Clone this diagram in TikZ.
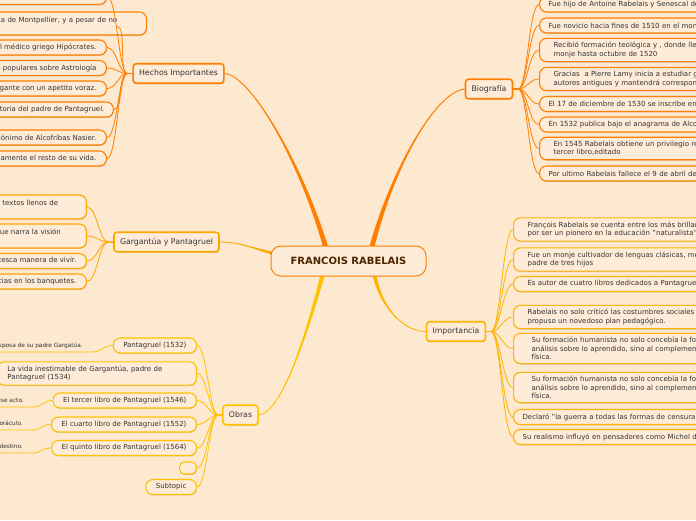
\documentclass[tikz,border=0pt]{standalone}
\usepackage{fontspec}
\setmainfont{DejaVu Sans}
\usetikzlibrary{calc,shadows,backgrounds}
\definecolor{paper}{RGB}{253,232,208}
\definecolor{boxfill}{RGB}{254,236,216}
\definecolor{orangeA}{RGB}{255,128,0}
\definecolor{orangeB}{RGB}{255,166,0}
\definecolor{goldA}{RGB}{255,180,0}
\definecolor{goldB}{RGB}{255,194,0}
\definecolor{inkgray}{RGB}{51,51,51}
\definecolor{inkbrown}{RGB}{77,38,0}
\tikzset{
  softshadow/.style={drop shadow={shadow xshift=0.5pt, shadow yshift=-0.9pt, opacity=0.3, fill=black!60}},
  rootbox/.style={draw=orangeA, line width=1pt, fill=boxfill, rounded corners=10pt, minimum width=155pt, minimum height=30pt, font=\fontsize{10}{12}\selectfont\bfseries, text=inkbrown},
  topicbox/.style={draw=#1, line width=1.6pt, fill=boxfill, rounded corners=3pt, minimum height=19.5pt, inner xsep=6pt, font=\fontsize{7.8}{9.5}\selectfont, text=inkgray, softshadow},
  leafbox/.style={draw=#1, line width=1.1pt, fill=boxfill, rounded corners=7pt, minimum height=15pt, inner xsep=10pt, inner ysep=4pt, align=left, font=\fontsize{7}{8.3}\selectfont, text=inkgray, softshadow},
  notetext/.style={inner xsep=9pt, inner ysep=4.5pt, text depth=0pt, font=\fontsize{5.8}{7}\selectfont, text=inkgray},
  twig/.style={draw=#1, line width=0.8pt}
}
\begin{document}
\begin{tikzpicture}[x=1pt, y=-1pt]
\useasboundingbox (0,0) rectangle (696,520);
\begin{scope}[on background layer]
\fill[paper] (0,0) rectangle (696,520);
\end{scope}

\node[rootbox] (rabelais) at (348.5,261) {FRANCOIS RABELAIS};
\node[topicbox=orangeA] (hechos) at (178.5,73.5) {Hechos Importantes};
\node[topicbox=orangeA] (bio) at (489,89) {Biografía};
\node[topicbox=orangeB] (garg) at (166.5,242) {Gargantúa y Pantagruel};
\node[topicbox=goldB] (obras) at (240.5,415) {Obras};
\node[topicbox=goldA] (imp) at (456,331.5) {Importancia};

\node[leafbox=orangeA, anchor=south east, text width=98pt] (h1) at (107,5) {\mbox{}\\as.};
\node[leafbox=orangeA, anchor=east, text width=140pt, minimum height=23pt] (h2) at (147,23.5) {na de Montpellier, y a pesar de no\\\mbox{}};
\node[leafbox=orangeA, anchor=east] (h3) at (107,47.5) {del médico griego Hipócrates.};
\node[leafbox=orangeA, anchor=east] (h4) at (107,68) {libros populares sobre Astrología};
\node[leafbox=orangeA, anchor=east] (h5) at (107,88.5) {elegante con un apetito voraz.};
\node[leafbox=orangeA, anchor=east, inner xsep=9pt] (h6) at (114,109.5) {historia del padre de Pantagruel.};
\node[leafbox=orangeA, anchor=east] (h7) at (107,137.5) {seudónimo de Alcofribas Nasier.};
\node[leafbox=orangeA, anchor=east] (h8) at (107,158.5) {tranquilamente el resto de su vida.};

\node[leafbox=orangeB, anchor=east, text width=74pt, minimum height=24pt] (g1) at (87,207) {textos llenos de\\\mbox{}};
\node[leafbox=orangeB, anchor=east, text width=81pt, minimum height=24pt] (g2) at (87,236) {que narra la visión\\\mbox{}};
\node[leafbox=orangeB, anchor=east] (g3) at (87,261) {grotesca manera de vivir.};
\node[leafbox=orangeB, anchor=east] (g4) at (87,281.5) {delicias en los banquetes.};

\node[leafbox=goldB, anchor=east] (o1) at (197,345.5) {Pantagruel (1532)};
\node[leafbox=goldB, anchor=east, text width=179pt] (o2) at (197,373.5) {La vida inestimable de Gargantúa, padre de\\Pantagruel (1534)};
\node[leafbox=goldB, anchor=east] (o3) at (197,400.5) {El tercer libro de Pantagruel (1546)};
\node[leafbox=goldB, anchor=east] (o4) at (197,424.5) {El cuarto libro de Pantagruel (1552)};
\node[leafbox=goldB, anchor=east] (o5) at (197,448) {El quinto libro de Pantagruel (1564)};
\node[leafbox=goldB, anchor=east, minimum width=17pt, minimum height=12pt, inner sep=0pt, rounded corners=5pt] (o6) at (197,468) {};
\node[leafbox=goldB, anchor=east] (o7) at (197,487) {Subtopic};

\node[notetext, anchor=south east] (n1) at (92,352) {esposa de su padre Gargatúa.};
\node[notetext, anchor=south east] (n3) at (33,407) {ese acto.};
\node[notetext, anchor=south east] (n4) at (32,430) {oráculo.};
\node[notetext, anchor=south east] (n5) at (32,453) {destino.};

\node[leafbox=orangeA, anchor=west, text width=260pt, inner xsep=9pt] (b1) at (539,4.5) {Fue hijo de Antoine Rabelais y Senescal de};
\node[leafbox=orangeA, anchor=west, text width=260pt, inner xsep=9pt] (b2) at (539,25.5) {Fue novicio hacia fines de 1510 en el monasterio};
\node[leafbox=orangeA, anchor=west, text width=260pt, inner xsep=14pt] (b3) at (539,50) {Recibió formación teológica y , donde llegó\\monje hasta octubre de 1520};
\node[leafbox=orangeA, anchor=west, text width=260pt, inner xsep=14pt] (b4) at (539,79) {Gracias~ a Pierre Lamy inicia a estudiar griego\\autores antiguos y mantendrá correspondencia};
\node[leafbox=orangeA, anchor=west, text width=260pt, inner xsep=9pt] (b5) at (539,104) {El 17 de diciembre de 1530 se inscribe en};
\node[leafbox=orangeA, anchor=west, text width=260pt, inner xsep=9pt] (b6) at (539,124.5) {En 1532 publica bajo el anagrama de Alcofribas};
\node[leafbox=orangeA, anchor=west, text width=260pt, inner xsep=14pt] (b7) at (539,148.5) {En 1545 Rabelais obtiene un privilegio real\\tercer libro,editado};
\node[leafbox=orangeA, anchor=west, text width=260pt, inner xsep=9pt] (b8) at (539,173.5) {Por ultimo Rabelais fallece el 9 de abril de};

\node[leafbox=goldA, anchor=west, text width=260pt, inner xsep=14pt] (i1) at (513,229.5) {François Rabelais se cuenta entre los más brillantes\\por ser un pionero en la educación "naturalista"};
\node[leafbox=goldA, anchor=west, text width=260pt, inner xsep=14pt] (i2) at (513,259.5) {Fue un monje cultivador de lenguas clásicas, médico\\padre de tres hijos};
\node[leafbox=goldA, anchor=west, text width=260pt, inner xsep=14pt] (i3) at (513,284) {Es autor de cuatro libros dedicados a Pantagruel};
\node[leafbox=goldA, anchor=west, text width=260pt, inner xsep=14pt] (i4) at (513,317) {Rabelais no solo criticó las costumbres sociales y\\propuso un novedoso plan pedagógico.};
\node[leafbox=goldA, anchor=west, text width=260pt, inner xsep=18pt] (i5) at (513,348.5) {Su formación humanista no solo concebía la formación\\análisis sobre lo aprendido, sino al complemento\\física.};
\node[leafbox=goldA, anchor=west, text width=260pt, inner xsep=18pt] (i6) at (513,387.5) {Su formación humanista no solo concebía la formación\\análisis sobre lo aprendido, sino al complemento\\física.};
\node[leafbox=goldA, anchor=west, text width=260pt, inner xsep=9pt] (i7) at (513,417) {Declaró "la guerra a todas las formas de censura};
\node[leafbox=goldA, anchor=west, text width=260pt, inner xsep=9pt] (i8) at (513,437) {Su realismo influyó en pensadores como Michel de};

\begin{scope}[on background layer]
\coordinate (sh) at ($(rabelais.north)+(-23,1)$);
\coordinate (sb) at ($(rabelais.north)+(23.5,1)$);
\coordinate (sg) at ($(rabelais.west)+(1.5,-8)$);
\coordinate (so) at ($(rabelais.south)+(-26,-1)$);
\coordinate (si) at ($(rabelais.south)+(26,-1)$);
\fill[orangeA] ($(sh)+(-2.6,0)$) .. controls (298.7,160) and (250,75) .. (hechos.east) .. controls (250,75) and (301.3,160) .. ($(sh)+(2.6,0)$) -- cycle;
\draw[orangeA, line width=0.9pt] (sh) .. controls (300,160) and (250,75) .. (hechos.east);
\fill[orangeA] ($(sb)+(-2.6,0)$) .. controls (390.7,170) and (435,92) .. (bio.west) .. controls (435,92) and (393.3,170) .. ($(sb)+(2.6,0)$) -- cycle;
\draw[orangeA, line width=0.9pt] (sb) .. controls (392,170) and (435,92) .. (bio.west);
\fill[orangeB] ($(sg)+(0,-1.5)$) .. controls (255,248.3) and (240,242) .. (garg.east) .. controls (240,242) and (255,249.7) .. ($(sg)+(0,1.5)$) -- cycle;
\draw[orangeB, line width=0.8pt] (sg) .. controls (255,249) and (240,242) .. (garg.east);
\fill[goldB] ($(so)+(-2.2,0)$) .. controls (306.9,330) and (282,413) .. (obras.east) .. controls (282,413) and (309.1,330) .. ($(so)+(2.2,0)$) -- cycle;
\draw[goldB, line width=0.8pt] (so) .. controls (308,330) and (282,413) .. (obras.east);
\fill[goldA] ($(si)+(-2,0)$) .. controls (381,310) and (405,331.5) .. (imp.west) .. controls (405,331.5) and (383,310) .. ($(si)+(2,0)$) -- cycle;
\draw[goldA, line width=0.8pt] (si) .. controls (382,310) and (405,331.5) .. (imp.west);
\end{scope}

\draw[twig=orangeA] (hechos.west) -- ++(-5,0) .. controls +(-9,0) and +(10,0) .. (h1.east);
\draw[twig=orangeA] (hechos.west) -- ++(-5,0) .. controls +(-9,0) and +(10,0) .. ($(h2.east)+(-30,3)$);
\draw[twig=orangeA] (hechos.west) -- ++(-5,0) .. controls +(-9,0) and +(10,0) .. (h3.east);
\draw[twig=orangeA] (hechos.west) -- ++(-5,0) .. controls +(-9,0) and +(10,0) .. (h4.east);
\draw[twig=orangeA] (hechos.west) -- ++(-5,0) .. controls +(-9,0) and +(10,0) .. (h5.east);
\draw[twig=orangeA] (hechos.west) -- ++(-5,0) .. controls +(-9,0) and +(8,0) .. (h6.east);
\draw[twig=orangeA] (hechos.west) -- ++(-5,0) .. controls +(-9,0) and +(10,0) .. (h7.east);
\draw[twig=orangeA] (hechos.west) -- ++(-5,0) .. controls +(-9,0) and +(10,0) .. (h8.east);

\draw[twig=orangeB] (garg.west) -- ++(-5,0) .. controls +(-9,0) and +(10,0) .. (g1.east);
\draw[twig=orangeB] (garg.west) -- ++(-5,0) .. controls +(-9,0) and +(10,0) .. (g2.east);
\draw[twig=orangeB] (garg.west) -- ++(-5,0) .. controls +(-9,0) and +(10,0) .. (g3.east);
\draw[twig=orangeB] (garg.west) -- ++(-5,0) .. controls +(-9,0) and +(10,0) .. (g4.east);

\draw[twig=goldB] (obras.west) -- ++(-4,0) .. controls +(-9,0) and +(10,0) .. (o1.east);
\draw[twig=goldB] (obras.west) -- ++(-4,0) .. controls +(-9,0) and +(10,0) .. (o2.east);
\draw[twig=goldB] (obras.west) -- ++(-4,0) .. controls +(-9,0) and +(10,0) .. (o3.east);
\draw[twig=goldB] (obras.west) -- ++(-4,0) .. controls +(-9,0) and +(10,0) .. (o4.east);
\draw[twig=goldB] (obras.west) -- ++(-4,0) .. controls +(-9,0) and +(10,0) .. (o5.east);
\draw[twig=goldB] (obras.west) -- ++(-4,0) .. controls +(-9,0) and +(10,0) .. (o6.east);
\draw[twig=goldB] (obras.west) -- ++(-4,0) .. controls +(-9,0) and +(10,0) .. (o7.east);

\draw[twig=goldB] (o1.west) .. controls +(-10,0) and +(10,0) .. (n1.south east) -- (n1.south west);
\draw[twig=goldB] (o3.west) .. controls +(-10,0) and +(10,0) .. (n3.south east) -- (n3.south west);
\draw[twig=goldB] (o4.west) .. controls +(-10,0) and +(10,0) .. (n4.south east) -- (n4.south west);
\draw[twig=goldB] (o5.west) .. controls +(-10,0) and +(10,0) .. (n5.south east) -- (n5.south west);

\draw[twig=orangeA] (bio.east) -- ++(5,0) .. controls +(9,0) and +(-10,0) .. (b1.west);
\draw[twig=orangeA] (bio.east) -- ++(5,0) .. controls +(9,0) and +(-10,0) .. (b2.west);
\draw[twig=orangeA] (bio.east) -- ++(5,0) .. controls +(9,0) and +(-10,0) .. (b3.west);
\draw[twig=orangeA] (bio.east) -- ++(5,0) .. controls +(9,0) and +(-10,0) .. (b4.west);
\draw[twig=orangeA] (bio.east) -- ++(5,0) .. controls +(9,0) and +(-10,0) .. (b5.west);
\draw[twig=orangeA] (bio.east) -- ++(5,0) .. controls +(9,0) and +(-10,0) .. (b6.west);
\draw[twig=orangeA] (bio.east) -- ++(5,0) .. controls +(9,0) and +(-10,0) .. (b7.west);
\draw[twig=orangeA] (bio.east) -- ++(5,0) .. controls +(9,0) and +(-10,0) .. (b8.west);

\draw[twig=goldA] (imp.east) -- ++(5,0) .. controls +(9,0) and +(-10,0) .. (i1.west);
\draw[twig=goldA] (imp.east) -- ++(5,0) .. controls +(9,0) and +(-10,0) .. (i2.west);
\draw[twig=goldA] (imp.east) -- ++(5,0) .. controls +(9,0) and +(-10,0) .. (i3.west);
\draw[twig=goldA] (imp.east) -- ++(5,0) .. controls +(9,0) and +(-10,0) .. (i4.west);
\draw[twig=goldA] (imp.east) -- ++(5,0) .. controls +(9,0) and +(-10,0) .. (i5.west);
\draw[twig=goldA] (imp.east) -- ++(5,0) .. controls +(9,0) and +(-10,0) .. (i6.west);
\draw[twig=goldA] (imp.east) -- ++(5,0) .. controls +(9,0) and +(-10,0) .. (i7.west);
\draw[twig=goldA] (imp.east) -- ++(5,0) .. controls +(9,0) and +(-10,0) .. (i8.west);
\end{tikzpicture}
\end{document}
